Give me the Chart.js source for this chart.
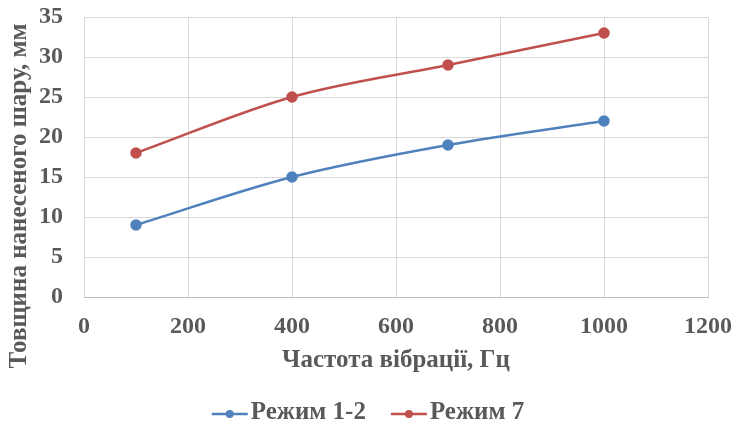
<!DOCTYPE html>
<html lang="uk">
<head>
  <meta charset="UTF-8">
  <title>Товщина шару</title>
  <script src="https://cdn.jsdelivr.net/npm/chart.js"></script>
  <style>
    html, body { margin: 0; padding: 0; background: #fff; }
    #wrap { width: 736px; height: 425px; }
  </style>
</head>
<body>
  <div id="wrap"><canvas id="chart" width="736" height="425"></canvas></div>
  <script>
    // дані з графіка
    const freq = [100, 400, 700, 1000];
    const mode12 = [9, 15, 19, 22];
    const mode7 = [18, 25, 29, 33];
    const seriesNames = ['Режим 1-2', 'Режим 7'];
    const colors = ['#4f81bd', '#c0504d'];
    const xTitle = 'Частота вібрації, Гц';
    const yTitle = 'Товщина нанесеного шару, мм';

    const family = "'Liberation Serif', 'Times New Roman', serif";
    const tickFont = { family: family, size: 24, weight: 'bold' };
    const labelFont = { family: family, size: 25, weight: 'bold' };
    const textColor = '#595959';

    // підпис осі Y та легенда малюються окремо, щоб поставити їх як в оригіналі
    const extrasPlugin = {
      id: 'extras',
      afterDraw(chart) {
        const ctx = chart.ctx;
        ctx.save();
        ctx.fillStyle = textColor;
        ctx.font = 'bold 25px ' + family;

        // вісь Y
        ctx.save();
        ctx.translate(20, 196);
        ctx.rotate(-Math.PI / 2);
        ctx.textAlign = 'center';
        ctx.textBaseline = 'middle';
        ctx.fillText(yTitle, 0, 0);
        ctx.restore();

        // легенда
        const iconW = 36, gapIcon = 3, gapItem = 25, y = 413;
        const items = chart.data.datasets.map(d => ({ label: d.label, color: d.borderColor, w: ctx.measureText(d.label).width }));
        let total = 0;
        items.forEach((it, i) => { total += iconW + gapIcon + it.w + (i ? gapItem : 0); });
        let x = chart.width / 2 - total / 2;
        ctx.textAlign = 'left';
        ctx.textBaseline = 'middle';
        items.forEach(it => {
          ctx.strokeStyle = it.color;
          ctx.lineWidth = 2.5;
          ctx.beginPath(); ctx.moveTo(x, y + 1); ctx.lineTo(x + iconW, y + 1); ctx.stroke();
          ctx.fillStyle = it.color;
          ctx.beginPath(); ctx.arc(x + iconW / 2, y + 1, 4, 0, Math.PI * 2); ctx.fill();
          ctx.fillStyle = textColor;
          ctx.fillText(it.label, x + iconW + gapIcon, y);
          x += iconW + gapIcon + it.w + gapItem;
        });
        ctx.restore();
      }
    };

    const ds = (name, vals, color) => ({
      label: name,
      data: freq.map((x, i) => ({ x: x, y: vals[i] })),
      borderColor: color,
      backgroundColor: color,
      borderWidth: 2.5,
      pointStyle: 'circle',
      pointRadius: 4.5,
      pointHoverRadius: 4.5,
      cubicInterpolationMode: 'monotone'
    });

    new Chart(document.getElementById('chart'), {
      type: 'line',
      data: {
        datasets: [ds(seriesNames[0], mode12, colors[0]), ds(seriesNames[1], mode7, colors[1])]
      },
      options: {
        responsive: false,
        animation: false,
        layout: { padding: { top: 17, right: 28, left: 0, bottom: 49.5 } },
        scales: {
          x: {
            type: 'linear', min: 0, max: 1200,
            ticks: { stepSize: 200, color: textColor, font: tickFont, padding: 15, callback: v => v },
            grid: { color: '#d9d9d9', drawTicks: false },
            border: { color: '#bfbfbf' },
            title: { display: true, text: xTitle, color: textColor, font: labelFont, padding: { top: 2, bottom: 0 } },
            afterFit: s => { s.height = 78.5; s.paddingLeft = 0; s.paddingRight = 0; }
          },
          y: {
            min: 0, max: 35,
            ticks: { stepSize: 5, color: textColor, font: tickFont, padding: 21 },
            grid: { color: '#d9d9d9', drawTicks: false },
            border: { display: false },
            afterFit: s => { s.width = 84; s.paddingTop = 0; s.paddingBottom = 0; }
          }
        },
        plugins: {
          tooltip: { enabled: false },
          legend: { display: false }
        }
      },
      plugins: [extrasPlugin]
    });
  </script>
</body>
</html>
